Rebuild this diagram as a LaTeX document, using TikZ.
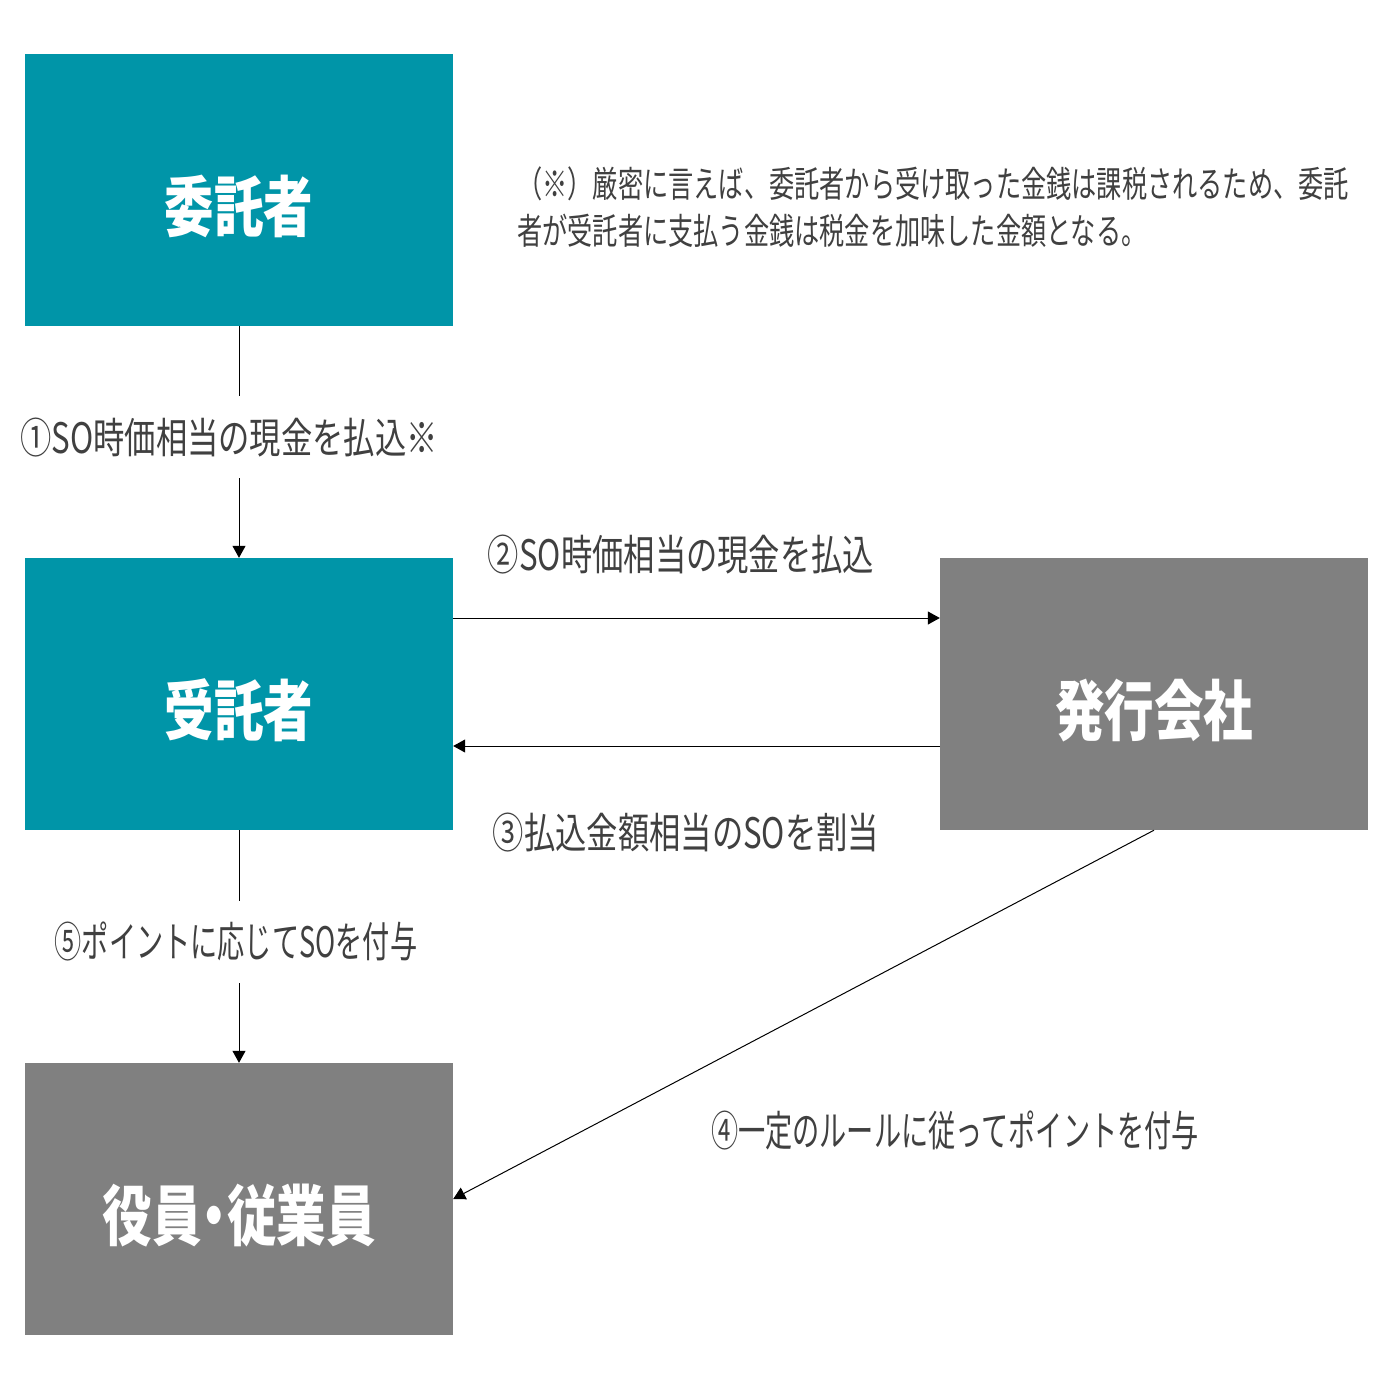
\documentclass[tikz,border=0pt]{standalone}
\usepackage{fontspec}
\usetikzlibrary{arrows.meta}
\newfontfamily\cjkT[FakeStretch=0.75]{Noto Sans CJK JP}
\newfontfamily\cjkL[FakeStretch=0.745]{Noto Sans CJK JP}
\newfontfamily\cjkK[FakeStretch=0.647]{Noto Sans CJK JP}
\newfontfamily\cjkN[FakeStretch=0.70]{Noto Sans CJK JP}
\definecolor{tealbox}{RGB}{0,149,168}
\definecolor{graybox}{RGB}{128,128,128}
\definecolor{txt}{RGB}{64,64,64}
\newcommand{\ttl}[1]{\raisebox{-41pt}[0pt][0pt]{#1}}
\tikzset{
  box/.style={minimum width=428pt,minimum height=272pt,inner sep=0pt,draw=none,text=white,font=\cjkT\bfseries\fontsize{66pt}{70pt}\selectfont},
  tbox/.style={box,fill=tealbox},
  gbox/.style={box,fill=graybox},
  lbl/.style={text=txt,font=\cjkL\fontsize{42pt}{46pt}\selectfont,inner sep=0pt},
  klbl/.style={lbl,font=\cjkK\fontsize{42pt}{46pt}\selectfont},
  gaplbl/.style={fill=white,minimum height=82pt},
  arr/.style={line width=1pt,-{Triangle[length=12pt,width=13pt]}}
}
\begin{document}
\begin{tikzpicture}[x=1pt,y=-1pt]
\useasboundingbox (0,0) rectangle (1400,1400);
\fill[white] (0,0) rectangle (1400,1400);
\node[tbox] (A) at (239,190) {\ttl{委託者}};
\node[tbox] (B) at (239,694) {\ttl{受託者}};
\node[gbox] (C) at (1154,694) {\ttl{発行会社}};
\node[gbox] (D) at (239,1199) {\ttl{役員\hspace{-12pt}・\hspace{-12pt}従業員}};
\node[text=txt,font=\cjkN\fontsize{36pt}{47pt}\selectfont,align=left,inner sep=0pt,anchor=north west] (N) at (517,166)
  {（※）厳密に言えば、委託者から受け取った金銭は課税されるため、委託\\者が受託者に支払う金銭は税金を加味した金額となる。};
\draw[arr] (A.south) -- (B.north) node[pos=0.48,lbl,gaplbl,xshift=-10pt] (L1) {①SO時価相当の現金を払込※};
\draw[arr] ([yshift=76pt]B.east) -- ([yshift=76pt]C.west);
\node[lbl] (L2) at (681,555) {②SO時価相当の現金を払込};
\draw[arr] ([yshift=-52pt]C.west) -- ([yshift=-52pt]B.east);
\node[lbl] (L3) at (686,833) {③払込金額相当のSOを割当};
\draw[arr] (C.south) -- (D.east);
\node[klbl] (L4) at (955,1130) {④一定のルールに従ってポイントを付与};
\draw[arr] (B.south) -- (D.north) node[pos=0.48,klbl,gaplbl,xshift=-3pt] (L5) {⑤ポイントに応じてSOを付与};
\end{tikzpicture}
\end{document}
